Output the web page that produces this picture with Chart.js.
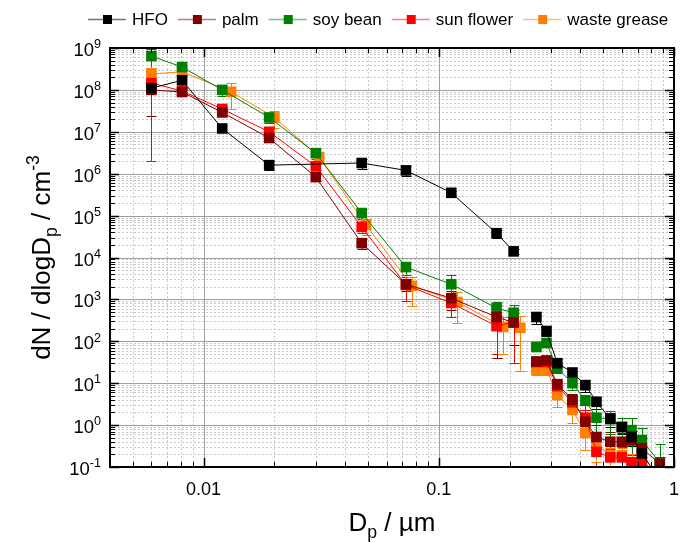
<!DOCTYPE html>
<html lang="en">
<head>
<meta charset="UTF-8">
<title>Particle number size distribution</title>
<script src="https://cdn.jsdelivr.net/npm/chart.js"></script>
<style>
 body { margin: 0; background: #fff; }
</style>
</head>
<body>
<canvas id="myChart" width="688" height="542"></canvas>
<script>
// particle diameters in µm (SMPS range, gap, ELPI range)
const dpSmps = [0.006, 0.0081, 0.012, 0.019, 0.030, 0.047, 0.0725, 0.113, 0.176, 0.208];
const dpSmpsHfo = [0.006, 0.0081, 0.012, 0.019, 0.047, 0.0725, 0.113, 0.176, 0.208];
const dpSmpsWaste = [0.006, 0.0081, 0.0131, 0.020, 0.031, 0.049, 0.0769, 0.120, 0.188, 0.222];
const dpElpi = [0.26, 0.287, 0.319, 0.37, 0.42, 0.468, 0.536, 0.60, 0.66, 0.73, 0.87];

// dN/dlogDp values and their standard deviations
const hfoSmps = [1.1e8, 1.7e8, 1.2e7, 1.6e6, 1.8e6, 1.2e6, 3.5e5, 3.8e4, 1.4e4];
const hfoSmpsErr = [2e7, 6e7, 1.5e6, 4e5, 5e5, 3e5, 4e4, 8e3, 2e3];
const hfoElpi = [380, 176, 30, 18, 9, 3.6, 1.4, 0.9, 0.52, 0.21, 0.05];
const hfoElpiErr = [120, 40, 8, 5, 3, 1.2, 0.5, 0.3, 0.2, 0.1, 0.02];

const palmSmps = [1.0e8, 8.9e7, 2.9e7, 7.1e6, 8.3e5, 2.2e4, 2.3e3, 1.07e3, 380, 280];
const palmSmpsErr = [7.6e7, 1.5e7, 5e6, 1.5e6, 1.5e5, 6e3, 700, 500, 340, 200];
const palmElpi = [33, 35, 9.5, 4, 1.2, 0.52, 0.4, 0.4, 0.43, 0.28, 0.12];
const palmElpiErr = [8, 10, 3, 1.5, 0.6, 0.5, 0.3, 0.25, 0.3, 0.2, 0.05];

const soySmps = [6.4e8, 3.5e8, 1.0e8, 2.2e7, 3.1e6, 1.15e5, 5.9e3, 2.3e3, 620, 480];
const soySmpsErr = [3e8, 5e7, 3e7, 6e6, 8e5, 3e4, 2e3, 1.5e3, 250, 250];
const soyElpi = [73, 91, 23, 10, 3.8, 1.5, 1.4, 0.9, 0.76, 0.44, 0.126];
const soyElpiErr = [10, 12, 5, 3, 1.5, 1.45, 0.8, 0.6, 0.7, 0.4, 0.23];

const sunSmps = [1.46e8, 9.4e7, 3.5e7, 1.0e7, 1.5e6, 5.4e4, 2.2e3, 820, 230, 290];
const sunSmpsErr = [1.44e8, 2e7, 6e6, 1.5e6, 3e5, 1.5e4, 1.3e3, 450, 180, 260];
const sunElpi = [32, 32, 8.5, 3.5, 1.5, 0.23, 0.17, 0.17, 0.13, 0.12, 0.05];
const sunElpiErr = [8, 6, 3, 1.5, 0.8, 0.2, 0.1, 0.08, 0.06, 0.05, 0.02];

const wasteSmps = [2.4e8, 2.7e8, 9e7, 2.2e7, 2.5e6, 6e4, 2.1e3, 870, 220, 210];
const wasteSmpsErr = [1e8, 7e7, 5.5e7, 1e7, 6e5, 2.5e4, 1.4e3, 600, 170, 190];
const wasteElpi = [21, 21, 5.2, 2.3, 0.65, 0.33, 0.19, 0.19, 0.125, 0.12, 0.05];
const wasteElpiErr = [5, 5, 2.5, 1.2, 0.4, 0.2, 0.1, 0.1, 0.08, 0.05, 0.02];

const seriesNames = ['HFO', 'palm', 'soy bean', 'sun flower', 'waste grease'];
const seriesColors = ['#000000', '#800000', '#008000', '#ff0000', '#ff8000'];
const legendLineColors = ['rgba(0,0,0,0.55)', 'rgba(128,0,0,0.5)', 'rgba(0,128,0,0.5)', 'rgba(255,0,0,0.5)', 'rgba(255,128,0,0.5)'];

const xTickLabels = ['0.01', '0.1', '1'];
const xTickValues = [0.01, 0.1, 1];
const yExponents = [-1, 0, 1, 2, 3, 4, 5, 6, 7, 8, 9];

const FONT = '"Liberation Sans", Arial, sans-serif';

function makePoints(dpA, vA, eA, dpB, vB, eB) {
  const pts = dpA.map((x, i) => ({ x: x, y: vA[i], err: eA[i] }));
  pts.push({ x: 0.235, y: null, err: 0 }); // break between instruments
  dpB.forEach((x, i) => pts.push({ x: x, y: vB[i], err: eB[i] }));
  return pts;
}

const seriesPoints = [
  makePoints(dpSmpsHfo, hfoSmps, hfoSmpsErr, dpElpi, hfoElpi, hfoElpiErr),
  makePoints(dpSmps, palmSmps, palmSmpsErr, dpElpi, palmElpi, palmElpiErr),
  makePoints(dpSmps, soySmps, soySmpsErr, dpElpi, soyElpi, soyElpiErr),
  makePoints(dpSmps, sunSmps, sunSmpsErr, dpElpi, sunElpi, sunElpiErr),
  makePoints(dpSmpsWaste, wasteSmps, wasteSmpsErr, dpElpi, wasteElpi, wasteElpiErr)
];

const datasets = seriesNames.map((name, i) => ({
  label: name,
  data: seriesPoints[i],
  borderColor: seriesColors[i],
  backgroundColor: seriesColors[i],
  borderWidth: 1,
  pointStyle: 'rect',
  pointRadius: 7.5,
  pointBorderWidth: 0,
  tension: 0,
  spanGaps: false
}));

// text with sub/superscript pieces: [text, shift] shift -1 sub, 1 sup
function richWidth(ctx, parts, size) {
  let w = 0;
  parts.forEach(p => {
    ctx.font = (p[1] ? size * 0.68 : size) + 'px ' + FONT;
    w += ctx.measureText(p[0]).width;
  });
  return w;
}
function drawRich(ctx, parts, x, y, size) {
  let cx = x;
  parts.forEach(p => {
    const s = p[1] ? size * 0.68 : size;
    ctx.font = s + 'px ' + FONT;
    const dy = p[1] === 1 ? -size * 0.42 : (p[1] === -1 ? size * 0.28 : 0);
    ctx.fillText(p[0], cx, y + dy);
    cx += ctx.measureText(p[0]).width;
  });
}

function logValues(min, max) {
  const out = [];
  for (let e = -4; e <= 9; e++) {
    for (let m = 1; m <= 9; m++) {
      const v = m * Math.pow(10, e);
      if (v >= min * 0.9999 && v <= max * 1.0001) out.push({ v: v, major: m === 1 });
    }
  }
  return out;
}

const framePlugin = {
  id: 'frame',
  beforeDatasetsDraw(chart) {
    const ctx = chart.ctx, a = chart.chartArea;
    const xs = chart.scales.x, ys = chart.scales.y;
    ctx.save();
    // minor grid
    ctx.strokeStyle = '#c8c8c8';
    ctx.lineWidth = 1;
    ctx.setLineDash([2, 2]);
    logValues(0.004, 1).forEach(t => {
      if (t.major) return;
      const px = Math.round(xs.getPixelForValue(t.v)) + 0.5;
      ctx.beginPath(); ctx.moveTo(px, a.top); ctx.lineTo(px, a.bottom); ctx.stroke();
    });
    logValues(0.1, 1e9).forEach(t => {
      if (t.major) return;
      const py = Math.round(ys.getPixelForValue(t.v)) + 0.5;
      ctx.beginPath(); ctx.moveTo(a.left, py); ctx.lineTo(a.right, py); ctx.stroke();
    });
    // major grid
    ctx.setLineDash([]);
    ctx.strokeStyle = '#a0a0a0';
    logValues(0.004, 1).forEach(t => {
      if (!t.major) return;
      const px = Math.round(xs.getPixelForValue(t.v)) + 0.5;
      ctx.beginPath(); ctx.moveTo(px, a.top); ctx.lineTo(px, a.bottom); ctx.stroke();
    });
    logValues(0.1, 1e9).forEach(t => {
      if (!t.major) return;
      const py = Math.round(ys.getPixelForValue(t.v)) + 0.5;
      ctx.beginPath(); ctx.moveTo(a.left, py); ctx.lineTo(a.right, py); ctx.stroke();
    });
    // error bars
    ctx.beginPath();
    ctx.rect(a.left, a.top, a.right - a.left, a.bottom - a.top);
    ctx.clip();
    chart.data.datasets.forEach((ds, i) => {
      ctx.strokeStyle = seriesColors[i];
      ctx.lineWidth = 1;
      ds.data.forEach(p => {
        if (p.y === null || !p.err) return;
        const px = Math.round(xs.getPixelForValue(p.x)) + 0.5;
        const top = ys.getPixelForValue(p.y + p.err);
        const lowV = p.y - p.err;
        const bot = lowV > 0 ? ys.getPixelForValue(lowV) : a.bottom + 5;
        ctx.beginPath();
        ctx.moveTo(px, top); ctx.lineTo(px, bot);
        ctx.moveTo(px - 5, Math.round(top) + 0.5); ctx.lineTo(px + 5, Math.round(top) + 0.5);
        if (lowV > 0) { ctx.moveTo(px - 5, Math.round(bot) + 0.5); ctx.lineTo(px + 5, Math.round(bot) + 0.5); }
        ctx.stroke();
      });
    });
    ctx.restore();
  },
  afterDatasetsDraw(chart) {
    const ctx = chart.ctx, a = chart.chartArea;
    const xs = chart.scales.x, ys = chart.scales.y;
    ctx.save();
    ctx.strokeStyle = '#000';
    ctx.fillStyle = '#000';
    // ticks, inward on all four sides
    logValues(0.004, 1).forEach(t => {
      const px = Math.round(xs.getPixelForValue(t.v)) + 0.5;
      const len = t.major ? 9 : 5;
      ctx.lineWidth = t.major ? 1.5 : 1;
      ctx.beginPath();
      ctx.moveTo(px, a.bottom); ctx.lineTo(px, a.bottom - len);
      ctx.moveTo(px, a.top); ctx.lineTo(px, a.top + len);
      ctx.stroke();
    });
    logValues(0.1, 1e9).forEach(t => {
      const py = Math.round(ys.getPixelForValue(t.v)) + 0.5;
      const len = t.major ? 9 : 5;
      ctx.lineWidth = t.major ? 1.5 : 1;
      ctx.beginPath();
      ctx.moveTo(a.left, py); ctx.lineTo(a.left + len, py);
      ctx.moveTo(a.right, py); ctx.lineTo(a.right - len, py);
      ctx.stroke();
    });
    // frame
    ctx.lineWidth = 2;
    ctx.strokeRect(a.left, a.top, a.right - a.left, a.bottom - a.top);

    // x tick labels
    ctx.font = '18px ' + FONT;
    ctx.textAlign = 'center';
    ctx.textBaseline = 'alphabetic';
    xTickValues.forEach((v, i) => {
      ctx.fillText(xTickLabels[i], xs.getPixelForValue(v), a.bottom + 28);
    });
    // y tick labels 10^n
    ctx.textAlign = 'left';
    yExponents.forEach(e => {
      const py = ys.getPixelForValue(Math.pow(10, e));
      const parts = [['10', 0], [String(e), 1]];
      const w = richWidth(ctx, parts, 18.5);
      drawRich(ctx, parts, a.left - 9 - w, py + 8, 18.5);
    });

    // axis titles
    const xt = [['D', 0], ['p', -1], [' / µm', 0]];
    const xw = richWidth(ctx, xt, 26);
    drawRich(ctx, xt, (a.left + a.right) / 2 - xw / 2, 531, 26);

    const yt = [['dN / dlogD', 0], ['p', -1], [' / cm', 0], ['-3', 1]];
    const yw = richWidth(ctx, yt, 26);
    ctx.save();
    ctx.translate(50, (a.top + a.bottom) / 2);
    ctx.rotate(-Math.PI / 2);
    drawRich(ctx, yt, -yw / 2, 0, 26);
    ctx.restore();

    // legend
    let lx = 88;
    const ly = 19;
    ctx.textBaseline = 'middle';
    seriesNames.forEach((name, i) => {
      ctx.strokeStyle = legendLineColors[i];
      ctx.lineWidth = 1.5;
      ctx.beginPath(); ctx.moveTo(lx, ly + 0.5); ctx.lineTo(lx + 38, ly + 0.5); ctx.stroke();
      ctx.fillStyle = seriesColors[i];
      ctx.fillRect(lx + 15, ly - 4, 9, 9);
      ctx.fillStyle = '#000';
      ctx.font = '17px ' + FONT;
      ctx.fillText(name, lx + 44, ly + 1);
      lx += 44 + ctx.measureText(name).width + 10;
    });
    ctx.restore();
  }
};

const ctx = document.getElementById('myChart').getContext('2d');
const myChart = new Chart(ctx, {
  type: 'line',
  data: { datasets: datasets },
  options: {
    responsive: false,
    animation: false,
    devicePixelRatio: 1,
    layout: { padding: { top: 48, right: 14, left: 0, bottom: 0 } },
    plugins: { legend: { display: false }, tooltip: { enabled: false } },
    scales: {
      x: {
        type: 'logarithmic', min: 0.004, max: 1,
        grid: { display: false }, border: { display: false },
        ticks: { display: false },
        afterFit: s => { s.height = 75; }
      },
      y: {
        type: 'logarithmic', min: 0.1, max: 1e9,
        grid: { display: false }, border: { display: false },
        ticks: { display: false },
        afterFit: s => { s.width = 110; }
      }
    }
  },
  plugins: [framePlugin]
});
</script>
</body>
</html>
